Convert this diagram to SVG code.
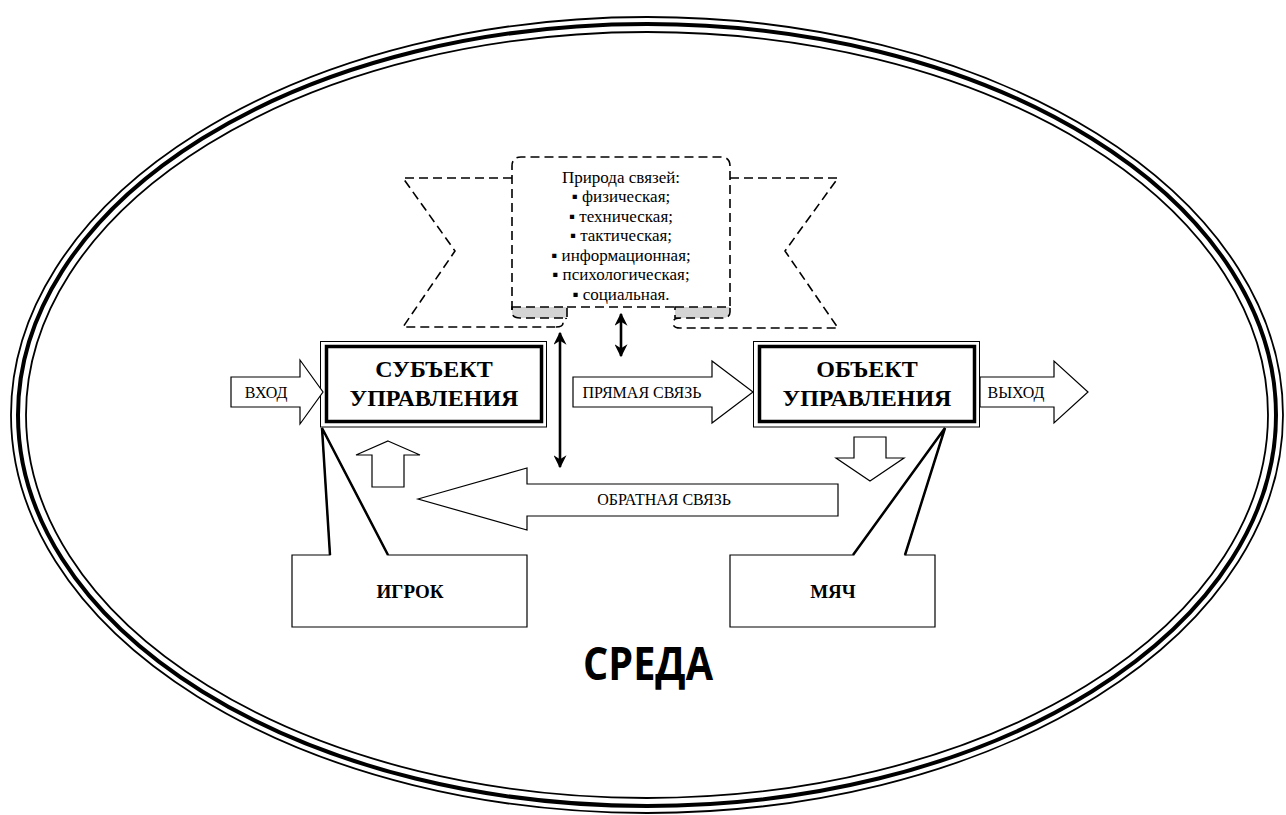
<svg xmlns="http://www.w3.org/2000/svg" width="1286" height="815" viewBox="0 0 1286 815">
<style>
.dash{fill:none;stroke:#000;stroke-width:1.6;stroke-dasharray:9 5}
.fold{fill:#d4d4d4;stroke:#000;stroke-width:1.6;stroke-dasharray:9 5}
.blk{fill:#fff;stroke:#000;stroke-width:1.2}
.ser{font-family:"Liberation Serif","Times New Roman",serif;fill:#000}
.sm{font-size:17px}
.lbl{font-size:16px}
.big{font-size:24px;font-weight:bold}
.mid{font-size:19px;font-weight:bold}
.outer{fill:none;stroke:#000;stroke-width:1}
.inner{fill:none;stroke:#000;stroke-width:3.5}
.line{fill:none;stroke:#000;stroke-width:2.5}
.dbl{fill:none;stroke:#000;stroke-width:2.6;marker-start:url(#ah);marker-end:url(#ah)}
</style>
<defs>
<marker id="ah" viewBox="0 0 10 10" refX="9" refY="5" markerWidth="5" markerHeight="5" orient="auto-start-reverse" markerUnits="strokeWidth">
<path d="M0,0 L10,5 L0,10 L3,5 Z" fill="#000"/>
</marker>
</defs>
<rect width="1286" height="815" fill="#fff"/>
<g id="environment">
<ellipse cx="647" cy="415" rx="636" ry="398" fill="none" stroke="#000" stroke-width="1.8"/>
<ellipse cx="647" cy="415" rx="629" ry="391" fill="none" stroke="#000" stroke-width="4"/>
<ellipse cx="647" cy="415" rx="621" ry="383" fill="none" stroke="#000" stroke-width="1.8"/>
<text x="648" y="680" text-anchor="middle" font-family="'Open Sans','Liberation Sans',sans-serif" font-weight="bold" font-size="46" textLength="130" lengthAdjust="spacingAndGlyphs">СРЕДА</text>
</g>
<g id="nature">
<path class="dash" d="M512,178 L403,178 L455,251 L403,327 L556,327"/>
<path class="dash" d="M556,327 Q563,327 563,323 Q563,319 567,318"/>
<path class="dash" d="M730,178 L838,178 L785,251 L838,328 L680,328 Q673,328 673,323 Q673,318 680,318"/>
<path class="fold" d="M512,307 L567,307 L567,318 L520,318 Q512,318 512,312 Z"/>
<path class="fold" d="M675,307 L730,307 L730,312 Q730,318 722,318 L675,318 Z"/>
<path class="dash" d="M512,310 L512,166 Q512,157 521,157 L721,157 Q730,157 730,166 L730,310"/>
<path class="dash" d="M567,307 L675,307"/>
<text class="ser sm" text-anchor="middle"><tspan x="621" y="183">Природа связей:</tspan><tspan x="621" y="202">▪ физическая;</tspan><tspan x="621" y="221.5">▪ техническая;</tspan><tspan x="621" y="241">▪ тактическая;</tspan><tspan x="621" y="260.5">▪ информационная;</tspan><tspan x="621" y="280">▪ психологическая;</tspan><tspan x="621" y="299.5">▪ социальная.</tspan></text>
</g>
<g id="subject">
<rect class="outer" x="320.5" y="341.5" width="226" height="85.5"/>
<rect class="inner" x="326.5" y="346.5" width="215" height="75"/>
<text class="ser big" text-anchor="middle" x="434" y="377">СУБЪЕКТ</text>
<text class="ser big" text-anchor="middle" x="434" y="406">УПРАВЛЕНИЯ</text>
</g>
<g id="object">
<rect class="outer" x="753.5" y="341.5" width="226" height="85.5"/>
<rect class="inner" x="759.5" y="346.5" width="215" height="75"/>
<text class="ser big" text-anchor="middle" x="867" y="377">ОБЪЕКТ</text>
<text class="ser big" text-anchor="middle" x="867" y="406">УПРАВЛЕНИЯ</text>
</g>
<g id="input">
<polygon class="blk" points="231,377 300,377 300,360 323,392 300,424 300,407 231,407"/>
<text class="ser lbl" text-anchor="middle" x="266" y="398">ВХОД</text>
</g>
<g id="output">
<polygon class="blk" points="980,377 1054,377 1054,361 1088,392 1054,423 1054,407 980,407"/>
<text class="ser lbl" text-anchor="middle" x="1016" y="398">ВЫХОД</text>
</g>
<g id="player">
<path class="blk" d="M292,555 L330,555 L322,428 L388,555 L527,555 L527,627 L292,627 Z"/>
<path class="line" d="M330,555 L322,428 L388,555"/>
<text class="ser mid" text-anchor="middle" x="410" y="598">ИГРОК</text>
</g>
<g id="ball">
<path class="blk" d="M730,555 L853,555 L945,428 L905,555 L935,555 L935,627 L730,627 Z"/>
<path class="line" d="M853,555 L945,428 L905,555"/>
<text class="ser mid" text-anchor="middle" x="833" y="598">МЯЧ</text>
</g>
<g id="connectors">
<polygon class="blk" points="573,377 712,377 712,361 753,392 712,423 712,407 573,407"/>
<text class="ser lbl" text-anchor="middle" x="642" y="398">ПРЯМАЯ СВЯЗЬ</text>
<polygon class="blk" points="418,499 527,468 527,484 838,484 838,516 527,516 527,530"/>
<text class="ser lbl" text-anchor="middle" x="664" y="505">ОБРАТНАЯ СВЯЗЬ</text>
<polygon class="blk" points="388,441 420,455 404,455 404,487 372,487 372,455 356,455"/>
<polygon class="blk" points="854,437 886,437 886,458 904,458 870,481 836,458 854,458"/>
<line class="dbl" x1="560" y1="333" x2="560" y2="467"/>
<line class="dbl" x1="621" y1="314" x2="621" y2="356"/>
</g>
</svg>
